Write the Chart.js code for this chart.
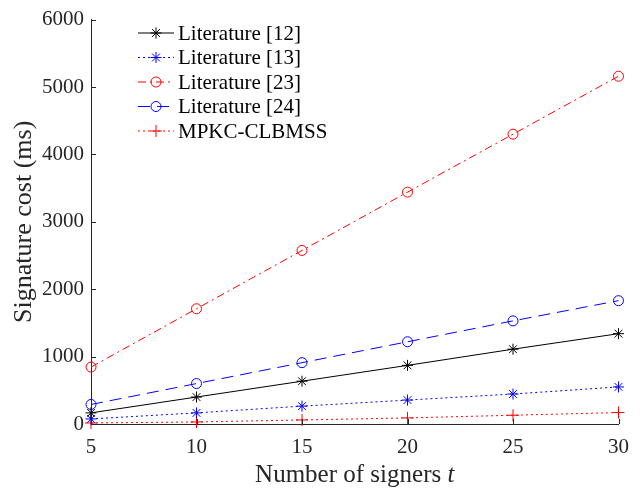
<!DOCTYPE html>
<html>
<head>
<meta charset="utf-8">
<script src="https://cdn.jsdelivr.net/npm/chart.js@4.4.1/dist/chart.umd.min.js"></script>
<style>
  html, body { margin: 0; padding: 0; background: #fff; }
</style>
</head>
<body>
<canvas id="chart" width="640" height="493"></canvas>
<script>
// values
const signers = [5, 10, 15, 20, 25, 30];
const lit12 = [165, 400, 635, 870, 1110, 1340];
const lit13 = [75, 165, 265, 355, 445, 550];
const lit23 = [845, 1710, 2575, 3440, 4300, 5160];
const lit24 = [290, 600, 910, 1220, 1530, 1830];
const mpkc = [15, 30, 60, 90, 130, 170];
const seriesNames = ['Literature [12]', 'Literature [13]', 'Literature [23]', 'Literature [24]', 'MPKC-CLBMSS'];
const xTicks = [5, 10, 15, 20, 25, 30];
const yTicks = [0, 1000, 2000, 3000, 4000, 5000, 6000];

const FONT = "'Liberation Serif', 'Times New Roman', serif";
const AXIS = '#262626';

const toPoints = vals => signers.map((s, i) => ({ x: s, y: vals[i] }));

function series(label, vals, color, dash, marker, radius) {
  return {
    label: label,
    data: toPoints(vals),
    borderColor: color,
    borderWidth: 1,
    borderDash: dash,
    pointStyle: marker,
    pointRadius: radius,
    pointHoverRadius: radius,
    pointBorderColor: color,
    pointBackgroundColor: 'rgba(0,0,0,0)',
    pointBorderWidth: 1,
    tension: 0,
    fill: false,
    clip: false,
  };
}

const datasets = [
  series(seriesNames[0], lit12, '#000000', [], 'star', 5.5),
  series(seriesNames[1], lit13, '#0000FF', [2, 3], 'star', 5.5),
  series(seriesNames[2], lit23, '#FF0000', [8, 4, 2, 4], 'circle', 5),
  series(seriesNames[3], lit24, '#0000FF', [12, 7], 'circle', 5),
  series(seriesNames[4], mpkc, '#FF0000', [2, 3], 'cross', 6),
];

// small marker painter for the legend
function marker(ctx, style, x, y, r) {
  ctx.beginPath();
  if (style === 'circle') {
    ctx.arc(x, y, r, 0, Math.PI * 2);
  } else {
    ctx.moveTo(x - r, y); ctx.lineTo(x + r, y);
    ctx.moveTo(x, y - r); ctx.lineTo(x, y + r);
    if (style === 'star') {
      const d = r * Math.SQRT1_2;
      ctx.moveTo(x - d, y - d); ctx.lineTo(x + d, y + d);
      ctx.moveTo(x - d, y + d); ctx.lineTo(x + d, y - d);
    }
  }
  ctx.stroke();
}

const decor = {
  id: 'decor',
  afterDraw(chart) {
    const ctx = chart.ctx;
    const xs = chart.scales.x, ys = chart.scales.y;
    const area = chart.chartArea;

    // inward tick marks
    ctx.save();
    ctx.strokeStyle = AXIS;
    ctx.lineWidth = 1;
    ctx.beginPath();
    yTicks.forEach(v => {
      const py = Math.round(ys.getPixelForValue(v)) + 0.5;
      ctx.moveTo(area.left, py); ctx.lineTo(area.left + 5, py);
    });
    xTicks.forEach(v => {
      const px = Math.round(xs.getPixelForValue(v)) + 0.5;
      ctx.moveTo(px, area.bottom); ctx.lineTo(px, area.bottom - 5);
    });
    ctx.stroke();

    // x axis title with italic t
    const a = 'Number of signers ';
    ctx.fillStyle = AXIS;
    ctx.textBaseline = 'middle';
    ctx.font = '25px ' + FONT;
    const wa = ctx.measureText(a).width;
    ctx.font = 'italic 25px ' + FONT;
    const wt = ctx.measureText('t').width;
    let sx = (area.left + area.right) / 2 - (wa + wt) / 2;
    ctx.font = '25px ' + FONT;
    ctx.textAlign = 'left';
    ctx.fillText(a, sx, 475);
    ctx.font = 'italic 25px ' + FONT;
    ctx.fillText('t', sx + wa, 475);

    // legend
    ctx.font = '21px ' + FONT;
    chart.data.datasets.forEach((ds, i) => {
      const y = 33 + i * 24.5;
      ctx.strokeStyle = ds.borderColor;
      ctx.lineWidth = 1;
      ctx.setLineDash(ds.borderDash);
      ctx.beginPath();
      ctx.moveTo(138, y); ctx.lineTo(174, y);
      ctx.stroke();
      ctx.setLineDash([]);
      marker(ctx, ds.pointStyle, 156, y, ds.pointRadius);
      ctx.fillStyle = '#000';
      ctx.fillText(ds.label, 178, y + 1);
    });
    ctx.restore();
  }
};

new Chart(document.getElementById('chart'), {
  type: 'line',
  data: { datasets: datasets },
  options: {
    responsive: false,
    animation: false,
    devicePixelRatio: 1,
    layout: { padding: { left: 0, right: 13, top: 17, bottom: 0 } },
    plugins: { legend: { display: false }, tooltip: { enabled: false } },
    scales: {
      x: {
        type: 'linear',
        min: 5,
        max: 30,
        afterBuildTicks: s => { s.ticks = xTicks.map(v => ({ value: v })); },
        afterFit: s => { s.height = 69; },
        grid: { display: false, drawTicks: false },
        border: { display: true, color: AXIS, width: 1 },
        ticks: { color: AXIS, padding: 11, maxRotation: 0, font: { family: FONT, size: 21 }, callback: v => String(v) },
      },
      y: {
        min: 0,
        max: 6000,
        afterBuildTicks: s => { s.ticks = yTicks.map(v => ({ value: v })); },
        afterFit: s => { s.width = 91; },
        grid: { display: false, drawTicks: false },
        border: { display: true, color: AXIS, width: 1 },
        ticks: { color: AXIS, padding: 7, font: { family: FONT, size: 21 }, callback: v => String(v) },
        title: {
          display: true,
          text: 'Signature cost (ms)',
          color: AXIS,
          padding: { top: 9, bottom: 0 },
          font: { family: FONT, size: 26 },
        },
      },
    },
  },
  plugins: [decor],
});
</script>
</body>
</html>
